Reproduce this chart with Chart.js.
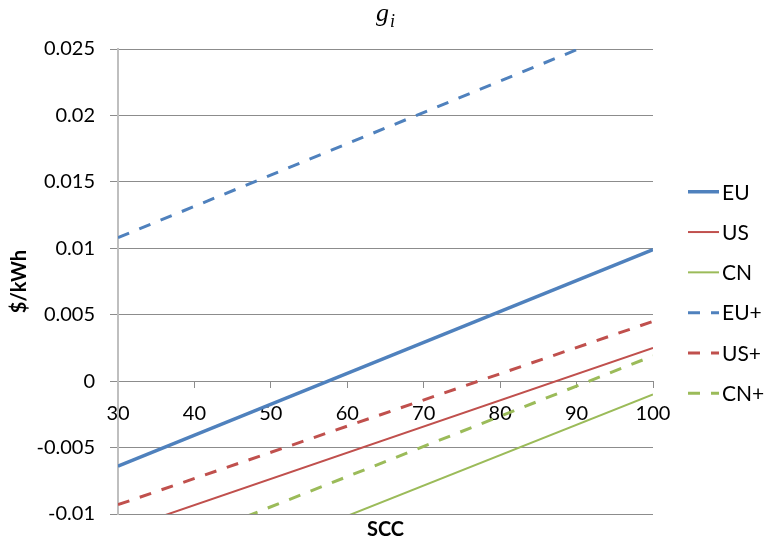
<!DOCTYPE html>
<html>
<head>
<meta charset="utf-8">
<title>g_i</title>
<script src="https://cdn.jsdelivr.net/npm/chart.js@4"></script>
<style>
    html, body { margin: 0; padding: 0; background: #fff; }
    #wrap { width: 767px; height: 544px; position: relative; }
</style>
</head>
<body>
<div id="wrap"><canvas id="giChart"></canvas></div>
<script>
// values at SCC = 30 and SCC = 100 (the lines are straight)
const sccPoints = [30, 100];
const seriesLabels = ['EU', 'US', 'CN', 'EU+', 'US+', 'CN+'];
const euValues = [-0.0064, 0.0099];
const usValues = [-0.0113, 0.0025];
const cnValues = [-0.0170, -0.0010];
const euPlusValues = [0.0108, 0.0273];
const usPlusValues = [-0.0093, 0.0045];
const cnPlusValues = [-0.0140, 0.0019];

const BLUE = '#4F81BD';
const RED = '#C0504D';
const GREEN = '#9BBB59';
const GRID = '#8C8C8C';
const FONT = 'Lato';

function toPoints(values) {
    return sccPoints.map((x, i) => ({ x: x, y: values[i] }));
}

function makeDataset(label, values, color, width, dashed) {
    return {
        label: label,
        data: toPoints(values),
        borderColor: color,
        backgroundColor: color,
        borderWidth: width,
        borderDash: dashed ? [12, 11] : [],
        pointRadius: 0,
        pointHoverRadius: 0,
        fill: false,
        tension: 0
    };
}

// title with subscript, drawn above the plot
const titlePlugin = {
    id: 'subTitle',
    afterDraw(chart) {
        const ctx = chart.ctx;
        const cx = (chart.chartArea.left + chart.chartArea.right) / 2;
        ctx.save();
        ctx.fillStyle = '#000';
        ctx.textBaseline = 'alphabetic';
        ctx.textAlign = 'left';
        ctx.font = 'italic 26px "Liberation Serif"';
        const gw = ctx.measureText('g').width;
        ctx.font = 'italic 18px "Liberation Serif"';
        const iw = ctx.measureText('i').width;
        const x0 = cx - (gw + iw + 1) / 2;
        ctx.font = 'italic 26px "Liberation Serif"';
        ctx.fillText('g', x0, 21);
        ctx.font = 'italic 18px "Liberation Serif"';
        ctx.fillText('i', x0 + gw + 1, 27);

        // x axis title below the plot
        ctx.font = 'bold 20px ' + FONT;
        ctx.textAlign = 'center';
        ctx.textBaseline = 'middle';
        ctx.fillText('SCC', cx, chart.chartArea.bottom + 16);
        ctx.restore();
    }
};

// legend on the right with line samples
const legendPlugin = {
    id: 'lineLegend',
    afterDraw(chart) {
        const ctx = chart.ctx;
        const area = chart.chartArea;
        const sets = chart.data.datasets;
        const step = 40.3;
        const midY = (area.top + area.bottom) / 2 + 11;
        const startY = midY - step * (sets.length - 1) / 2;
        const x0 = area.right + 35;
        const x1 = x0 + 31;
        ctx.save();
        sets.forEach((ds, i) => {
            const y = startY + i * step;
            ctx.beginPath();
            ctx.strokeStyle = ds.borderColor;
            ctx.lineWidth = ds.borderWidth;
            ctx.setLineDash(ds.borderDash || []);
            ctx.moveTo(x0, y);
            ctx.lineTo(x1, y);
            ctx.stroke();
            ctx.setLineDash([]);
            ctx.fillStyle = '#000';
            ctx.font = '21px ' + FONT;
            ctx.textAlign = 'left';
            ctx.textBaseline = 'middle';
            ctx.fillText(ds.label, x1 + 3, y + 1);
        });
        ctx.restore();
    }
};

const ctx = document.getElementById('giChart').getContext('2d');
new Chart(ctx, {
    type: 'line',
    data: {
        datasets: [
            makeDataset(seriesLabels[0], euValues, BLUE, 3.5, false),
            makeDataset(seriesLabels[1], usValues, RED, 2, false),
            makeDataset(seriesLabels[2], cnValues, GREEN, 2, false),
            makeDataset(seriesLabels[3], euPlusValues, BLUE, 3, true),
            makeDataset(seriesLabels[4], usPlusValues, RED, 3, true),
            makeDataset(seriesLabels[5], cnPlusValues, GREEN, 3, true)
        ]
    },
    options: {
        responsive: true,
        maintainAspectRatio: false,
        animation: false,
        events: [],
        layout: {
            padding: { top: 49, right: 114, bottom: 30, left: 0 }
        },
        plugins: {
            legend: { display: false },
            tooltip: { enabled: false },
            title: { display: false }
        },
        scales: {
            x: {
                type: 'linear',
                position: { y: 0 },
                min: 30,
                max: 100,
                afterFit(scale) { scale.height = 0; },
                ticks: {
                    stepSize: 10,
                    color: '#000',
                    padding: 14,
                    maxRotation: 0,
                    font: { family: FONT, size: 20 }
                },
                grid: {
                    drawOnChartArea: false,
                    drawTicks: true,
                    tickLength: 6,
                    color: GRID
                },
                border: { display: true, color: GRID, width: 1 }
            },
            y: {
                min: -0.01,
                max: 0.025,
                afterFit(scale) { scale.width = 118; },
                ticks: {
                    stepSize: 0.005,
                    color: '#000',
                    padding: 15,
                    font: { family: FONT, size: 20 },
                    callback: function(v) {
                        return String(Math.round(v * 1000) / 1000);
                    }
                },
                grid: {
                    color: GRID,
                    lineWidth: 1,
                    drawTicks: true,
                    tickLength: 8
                },
                border: { display: true, color: '#BFBFBF', width: 2 },
                title: {
                    display: true,
                    text: '$/kWh',
                    color: '#000',
                    padding: { top: 8, bottom: 0 },
                    font: { family: FONT, size: 20, weight: 'bold', lineHeight: 1.2 }
                }
            }
        }
    },
    plugins: [titlePlugin, legendPlugin]
});
</script>
</body>
</html>
